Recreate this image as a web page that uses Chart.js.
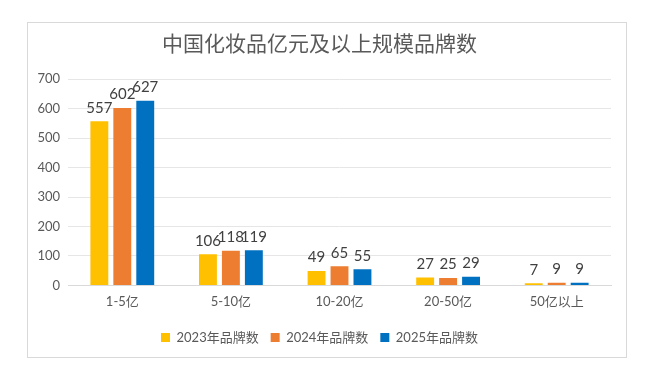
<!DOCTYPE html>
<html><head><meta charset="utf-8">
<script src="https://cdn.jsdelivr.net/npm/chart.js@4/dist/chart.umd.min.js"></script>
<style>
html,body{margin:0;padding:0;background:#fff;width:651px;height:380px;overflow:hidden}
#box{position:absolute;left:27px;top:22px;width:600px;height:336px;border:1px solid #d9d9d9;box-sizing:border-box}
canvas{display:block}
</style></head><body>
<div id="box"><canvas id="c" width="598" height="334"></canvas></div>
<script>
const categories = ["1-5亿","5-10亿","10-20亿","20-50亿","50亿以上"];
const seriesNames = ["2023年品牌数","2024年品牌数","2025年品牌数"];
const v2023 = [557,106,49,27,7];
const v2024 = [602,118,65,25,9];
const v2025 = [627,119,55,29,9];
const colors = ["#FFC000","#ED7D31","#0070C0"];
const FONT = "Lato, 'Noto Sans CJK SC', sans-serif";

const labelPlugin = {
  id:'labels',
  afterDatasetsDraw(chart){
    const ctx = chart.ctx;
    ctx.save();
    ctx.font = "15px " + FONT;
    ctx.fillStyle = "#404040";
    ctx.textAlign = "center";
    ctx.textBaseline = "bottom";
    chart.data.datasets.forEach((ds,i)=>{
      chart.getDatasetMeta(i).data.forEach((bar,j)=>{
        ctx.fillText(String(ds.data[j]), bar.x, bar.y - 6);
      });
    });
    ctx.restore();
  }
};

new Chart(document.getElementById('c'),{
  type:'bar',
  data:{
    labels:categories,
    datasets:[v2023,v2024,v2025].map((d,i)=>({label:seriesNames[i],data:d,backgroundColor:colors[i],borderWidth:0,categoryPercentage:0.634,barPercentage:0.78}))
  },
  options:{
    responsive:false,animation:false,
    layout:{padding:{left:0,right:15,top:0,bottom:3}},
    plugins:{
      title:{display:true,text:"中国化妆品亿元及以上规模品牌数",color:"#595959",font:{family:FONT,size:21,weight:'normal'},padding:{top:9,bottom:22}},
      legend:{position:'bottom',labels:{boxWidth:9,boxHeight:9,color:"#595959",font:{family:FONT,size:13},padding:12}},
      tooltip:{enabled:false}
    },
    scales:{
      x:{grid:{display:false},border:{color:"#d9d9d9"},ticks:{color:"#595959",font:{family:FONT,size:13},padding:1},
        afterFit(s){s.height+=8;}},
      y:{min:0,max:700,ticks:{stepSize:100,color:"#595959",font:{family:FONT,size:13},padding:8},grid:{color:"#e6e6e6",drawTicks:false},border:{display:false},
        afterFit(s){s.width=40;}}
    }
  },
  plugins:[labelPlugin]
});
</script></body></html>
